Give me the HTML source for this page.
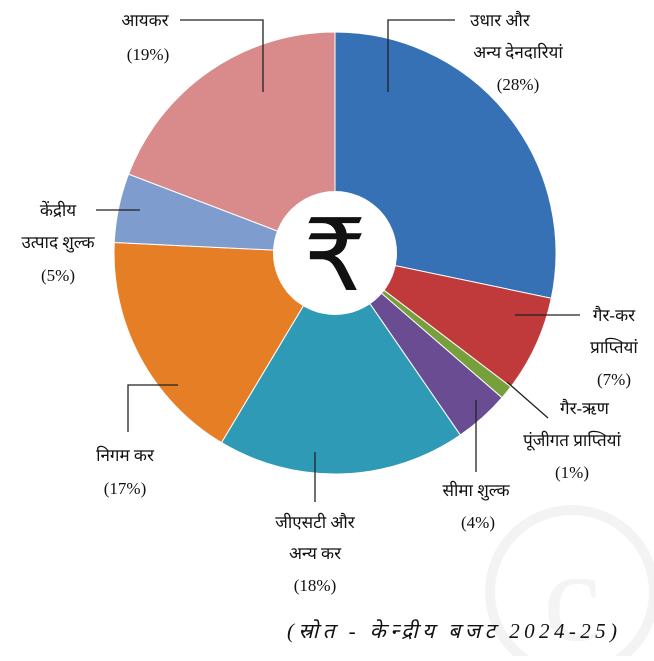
<!DOCTYPE html>
<html><head><meta charset="utf-8"><style>
body{margin:0;background:#fff;}
svg text{font-family:"Liberation Serif","Noto Sans CJK SC",serif;font-size:17px;fill:#111;}
</style></head><body>
<svg width="654" height="656" viewBox="0 0 654 656">
<g id="wm">
<circle cx="572" cy="592" r="82" fill="none" stroke="#f3f3f3" stroke-width="10"/>
<text x="572" y="640" text-anchor="middle" style="font-size:130px;fill:#f4f4f4">c</text>
</g>
<g id="slices"></g>
<circle cx="335" cy="253" r="62" fill="#fff"/>
<text x="335" y="290" text-anchor="middle" style="font-size:100px;font-family:'DejaVu Sans',sans-serif">₹</text>
<g stroke="#222" stroke-width="1.3" fill="none">
<polyline points="180,20 263,20 263,92"/>
<polyline points="455,20 388,20 388,92"/>
<polyline points="515,315 580,315"/>
<polyline points="507,382 548,418"/>
<polyline points="476,400 476,472"/>
<polyline points="315,452 315,502"/>
<polyline points="128,432 128,385 178,385"/>
<polyline points="96,210 140,210"/>
</g>
<g>
<text x="145" y="26" text-anchor="middle">आयकर</text>
<text x="148" y="60" text-anchor="middle">(19%)</text>
<text x="500" y="26" text-anchor="middle">उधार और</text>
<text x="518" y="58" text-anchor="middle">अन्य देनदारियां</text>
<text x="518" y="90" text-anchor="middle">(28%)</text>
<text x="614" y="321" text-anchor="middle">गैर-कर</text>
<text x="614" y="353" text-anchor="middle">प्राप्तियां</text>
<text x="614" y="385" text-anchor="middle">(7%)</text>
<text x="560" y="414">गैर-ऋण</text>
<text x="572" y="446" text-anchor="middle">पूंजीगत प्राप्तियां</text>
<text x="572" y="478" text-anchor="middle">(1%)</text>
<text x="476" y="496" text-anchor="middle">सीमा शुल्क</text>
<text x="478" y="528" text-anchor="middle">(4%)</text>
<text x="315" y="528" text-anchor="middle">जीएसटी और</text>
<text x="315" y="559" text-anchor="middle">अन्य कर</text>
<text x="315" y="591" text-anchor="middle">(18%)</text>
<text x="125" y="461" text-anchor="middle">निगम कर</text>
<text x="125" y="494" text-anchor="middle">(17%)</text>
<text x="58" y="216" text-anchor="middle">केंद्रीय</text>
<text x="58" y="248" text-anchor="middle">उत्पाद शुल्क</text>
<text x="58" y="281" text-anchor="middle">(5%)</text>
<text x="452" y="638" text-anchor="middle" textLength="330" style="font-style:italic;font-size:21px">(स्रोत - केन्द्रीय बजट 2024-25)</text>
</g>
</svg>
<script>
const categories=["उधार और अन्य देनदारियां","गैर-कर प्राप्तियां","गैर-ऋण पूंजीगत प्राप्तियां","सीमा शुल्क","जीएसटी और अन्य कर","निगम कर","केंद्रीय उत्पाद शुल्क","आयकर"];
const values=[28,7,1,4,18,17,5,19];
const colors=["#3670b5","#c0393b","#77a03c","#6a4c93","#2e9ab5","#e67e26","#7f9cce","#d98b8b"];
const cx=335,cy=253,r=221;
const total=values.reduce((a,b)=>a+b,0);
const g=document.getElementById('slices');
let a=0;
function pt(ang){return [cx+r*Math.sin(ang),cy-r*Math.cos(ang)];}
values.forEach((v,i)=>{
 const a2=a+v/total*2*Math.PI;
 const p1=pt(a),p2=pt(a2);
 const large=(a2-a)>Math.PI?1:0;
 const p=document.createElementNS('http://www.w3.org/2000/svg','path');
 p.setAttribute('d',`M${cx},${cy} L${p1[0]},${p1[1]} A${r},${r} 0 ${large} 1 ${p2[0]},${p2[1]} Z`);
 p.setAttribute('fill',colors[i]);
 p.setAttribute('stroke','#fff');
 p.setAttribute('stroke-width','1');
 
 
 g.appendChild(p);
 a=a2;
});
</script>
</body></html>
